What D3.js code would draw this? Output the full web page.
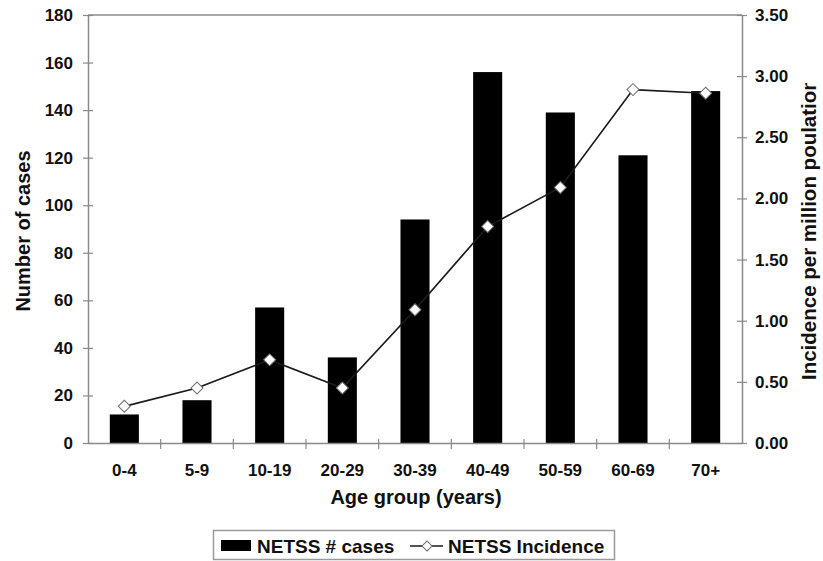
<!DOCTYPE html>
<html>
<head>
<meta charset="utf-8">
<script src="https://cdn.jsdelivr.net/npm/d3@7"></script>
<style>
  html, body { margin: 0; padding: 0; background: #fff; }
  svg { display: block; font-family: "Liberation Sans", Arial, sans-serif; font-weight: bold; }
</style>
</head>
<body>
<svg id="chart" width="823" height="561"></svg>
<script>
// Age groups and the two series: case counts (left axis) and incidence (right axis)
const ageGroups = ["0-4", "5-9", "10-19", "20-29", "30-39", "40-49", "50-59", "60-69", "70+"];
const cases = [12, 18, 57, 36, 94, 156, 139, 121, 148];
const incidence = [0.30, 0.45, 0.68, 0.45, 1.09, 1.77, 2.09, 2.89, 2.86];
const caseTicks = [0, 20, 40, 60, 80, 100, 120, 140, 160, 180];
const incidenceTicks = [0, 0.5, 1.0, 1.5, 2.0, 2.5, 3.0, 3.5];

const svg = d3.select("#chart");
const plot = { left: 88, right: 742, top: 15, bottom: 443 };
const axisColor = "#8a8a8a";

const x = d3.scaleBand()
  .domain(ageGroups)
  .range([plot.left, plot.right])
  .paddingInner(0.6)
  .paddingOuter(0.3);
const yL = d3.scaleLinear().domain([0, 180]).range([plot.bottom, plot.top]);
const yR = d3.scaleLinear().domain([0, 3.5]).range([plot.bottom, plot.top]);

// Top frame line
svg.append("line")
  .attr("x1", plot.left).attr("x2", plot.right)
  .attr("y1", yL(180)).attr("y2", yL(180))
  .attr("stroke", axisColor).attr("stroke-width", 1.5);

// Bars
svg.append("g").selectAll("rect")
  .data(ageGroups)
  .join("rect")
  .attr("x", d => x(d))
  .attr("width", x.bandwidth())
  .attr("y", (d, i) => yL(cases[i]))
  .attr("height", (d, i) => yL(0) - yL(cases[i]))
  .attr("fill", "#000");

function styleAxis(g, crossIn) {
  g.select(".domain").attr("stroke", axisColor).attr("stroke-width", 1.5);
  g.selectAll(".tick line").attr("stroke", axisColor).attr("stroke-width", 1.2);
  if (crossIn !== undefined) g.selectAll(".tick line").attr("x1", crossIn);
  g.selectAll("text").attr("fill", "#111").attr("font-size", "17px").attr("font-weight", "bold")
    .attr("font-family", "'Liberation Sans', Arial, sans-serif");
}

// Left axis
const gL = svg.append("g")
  .attr("transform", `translate(${plot.left},0)`)
  .call(d3.axisLeft(yL).tickValues(caseTicks).tickSizeInner(5).tickSizeOuter(0).tickPadding(10).tickFormat(d3.format("d")));
styleAxis(gL, 5);

// Right axis
const gR = svg.append("g")
  .attr("transform", `translate(${plot.right},0)`)
  .call(d3.axisRight(yR).tickValues(incidenceTicks).tickSizeInner(5).tickSizeOuter(0).tickPadding(8).tickFormat(d3.format(".2f")));
styleAxis(gR, -5);

// Bottom axis: labels centred on bars, ticks at category boundaries
const gB = svg.append("g")
  .attr("transform", `translate(0,${plot.bottom})`)
  .call(d3.axisBottom(x).tickSize(0).tickPadding(21).tickSizeOuter(0));
styleAxis(gB);
gB.append("g").selectAll("line")
  .data(ageGroups.slice(1))
  .join("line")
  .attr("x1", d => x(d) + x.bandwidth() / 2 - x.step() / 2)
  .attr("x2", d => x(d) + x.bandwidth() / 2 - x.step() / 2)
  .attr("y1", -4).attr("y2", 6)
  .attr("stroke", axisColor).attr("stroke-width", 1.2);

// Incidence line with diamond markers
const cx = d => x(d) + x.bandwidth() / 2;
const line = d3.line().x(d => cx(d[0])).y(d => yR(d[1]));
const pts = ageGroups.map((d, i) => [d, incidence[i]]);
svg.append("path")
  .datum(pts)
  .attr("d", line)
  .attr("fill", "none")
  .attr("stroke", "#1a1a1a")
  .attr("stroke-width", 1.7);

const diamond = d3.symbol().type(d3.symbolSquare).size(72);
svg.append("g").selectAll("path")
  .data(pts)
  .join("path")
  .attr("d", diamond)
  .attr("transform", d => `translate(${cx(d[0])},${yR(d[1])}) rotate(45)`)
  .attr("fill", "#fff")
  .attr("stroke", "#6e6e6e")
  .attr("stroke-width", 1);

// Axis titles
svg.append("text")
  .attr("transform", `translate(30,231) rotate(-90)`)
  .attr("text-anchor", "middle")
  .attr("font-size", "20px")
  .attr("fill", "#111")
  .text("Number of cases");

// Right title sits in a box that cuts off the end of the last word
svg.append("defs").append("clipPath").attr("id", "rtitle-clip")
  .append("rect").attr("x", 790).attr("y", 83).attr("width", 40).attr("height", 320);
svg.append("g")
  .attr("clip-path", "url(#rtitle-clip)")
  .append("text")
  .attr("transform", `translate(816,380) rotate(-90)`)
  .attr("text-anchor", "start")
  .attr("font-size", "20.5px")
  .attr("fill", "#111")
  .text("Incidence per million poulation");

svg.append("text")
  .attr("x", 416).attr("y", 504)
  .attr("text-anchor", "middle")
  .attr("font-size", "20px")
  .attr("fill", "#111")
  .text("Age group (years)");

// Legend
const lg = svg.append("g");
lg.append("rect")
  .attr("x", 213.5).attr("y", 530.5).attr("width", 401).attr("height", 29)
  .attr("fill", "#fff").attr("stroke", "#9a9a9a").attr("stroke-width", 1.5);
lg.append("rect")
  .attr("x", 221).attr("y", 540).attr("width", 30).attr("height", 11)
  .attr("fill", "#000");
lg.append("text")
  .attr("x", 257).attr("y", 552.5)
  .attr("font-size", "19px").attr("fill", "#111")
  .text("NETSS # cases");
lg.append("line")
  .attr("x1", 410).attr("x2", 443).attr("y1", 546).attr("y2", 546)
  .attr("stroke", "#1a1a1a").attr("stroke-width", 1.7);
lg.append("path")
  .attr("d", d3.symbol().type(d3.symbolSquare).size(50))
  .attr("transform", "translate(427,546) rotate(45)")
  .attr("fill", "#fff").attr("stroke", "#6e6e6e").attr("stroke-width", 1);
lg.append("text")
  .attr("x", 448).attr("y", 552.5)
  .attr("font-size", "19px").attr("fill", "#111")
  .text("NETSS Incidence");
</script>
</body>
</html>
